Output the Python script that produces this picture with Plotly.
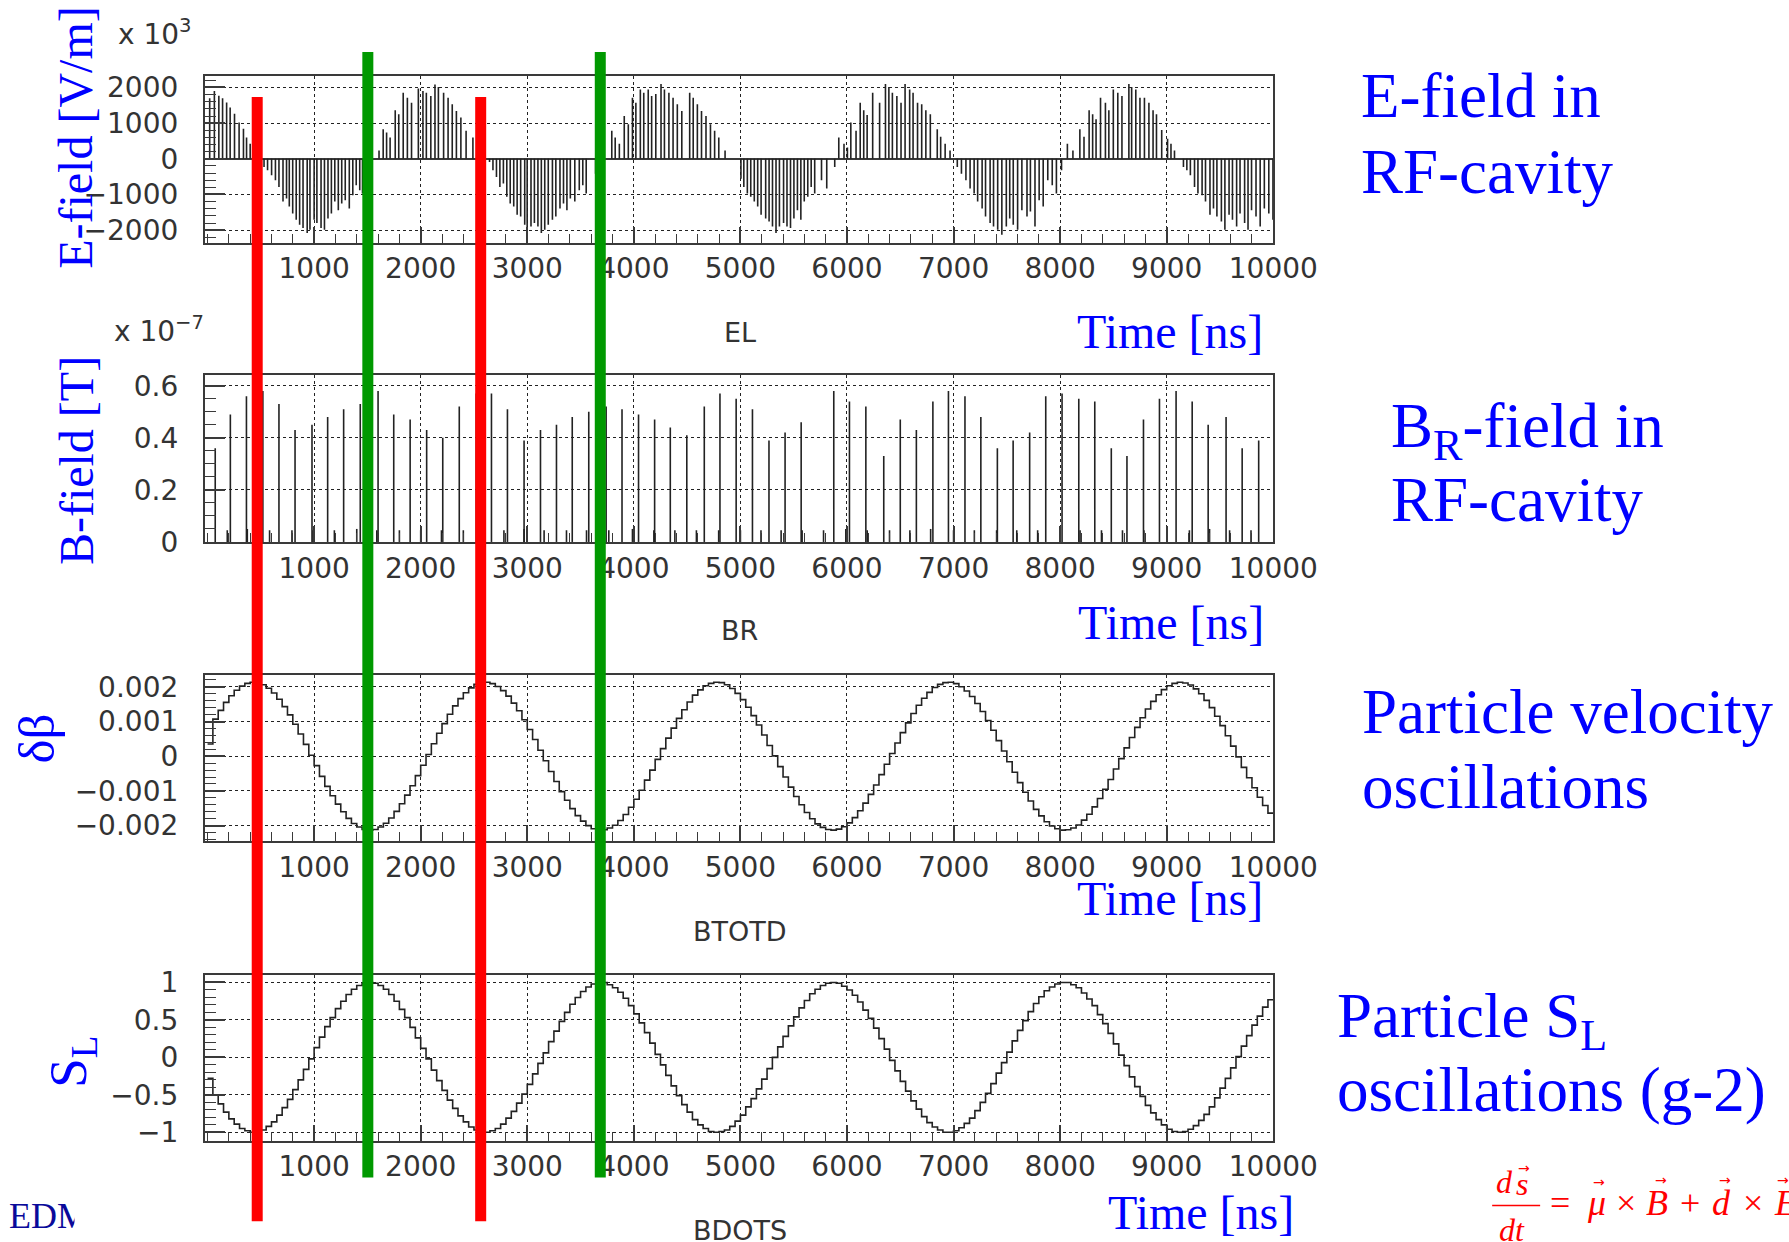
import plotly.graph_objects as go

# target picture size, and the layout size that the page photographer maps onto it
PIC_W, PIC_H = 1789, 1242
SX, SY, OY = 0.976, 0.9816, 7.8          # measured photograph transform
W = round(PIC_W / SX)                     # layout width  (~1833)
H = round((PIC_H - OY) / SY)              # layout height (~1257)
FS = 1.0 / 0.979                          # font scale compensation

# ---------------- data ----------------
e_time = [20, 64, 106, 141, 179, 212, 253, 296, 337, 366, 400,
          530, 563, 601, 637, 670, 708, 741, 767, 799, 832, 864, 896, 935, 961, 1000, 1026, 1065, 1097,
          1130, 1162, 1194, 1227, 1259, 1292, 1330, 1363, 1395, 1428, 1454,
          1609, 1648, 1680, 1713, 1761, 1794, 1836, 1875, 1914, 1978, 2021, 2053, 2095, 2134, 2166,
          2215, 2257, 2296, 2335, 2377, 2426, 2490,
          2646, 2678, 2711, 2743, 2776, 2808, 2840, 2873, 2905, 2938, 2976, 2999, 3035, 3067, 3100,
          3132, 3164, 3197, 3236, 3268, 3307, 3340, 3372, 3404, 3446, 3488, 3521, 3553, 3641,
          3793, 3825, 3864, 3910, 3948, 3987, 4019, 4061, 4093, 4135, 4167, 4206, 4255, 4287, 4329,
          4368, 4408, 4450, 4524, 4557, 4596, 4635, 4677, 4719, 4758, 4797, 4856,
          5005, 5032, 5065, 5097, 5130, 5162, 5194, 5237, 5269, 5301, 5334, 5366, 5405, 5437, 5470,
          5502, 5535, 5567, 5599, 5632, 5664, 5697, 5761, 5810, 5885,
          5923, 5972, 6004, 6036, 6085, 6124, 6157, 6189, 6241, 6306, 6361, 6393, 6426, 6468, 6507,
          6545, 6588, 6620, 6662, 6701, 6740, 6782, 6847, 6879, 6921, 6967,
          7035, 7074, 7116, 7155, 7193, 7226, 7268, 7300, 7343, 7375, 7414, 7453, 7495, 7527, 7560,
          7601, 7641, 7689, 7721, 7764, 7803, 7841, 7884, 7926, 7965, 8013,
          8068, 8120, 8185, 8224, 8272, 8305, 8337, 8379, 8425, 8457, 8499, 8541, 8580, 8645, 8671,
          8710, 8749, 8791, 8833, 8872, 8904, 8953, 9008, 9040, 9073,
          9157, 9189, 9222, 9261, 9293, 9332, 9364, 9406, 9439, 9471, 9513, 9546, 9585, 9617, 9656,
          9688, 9731, 9763, 9796, 9838, 9877, 9916, 9958, 9997]
e_field = [1700, 1900, 1770, 1700, 1580, 1440, 1260, 1020, 840, 600, 420,
           -230, -320, -460, -600, -790, -1200, -1110, -1340, -1530, -1710, -1850, -1940, -2080, -1990, -1710, -1800, -1940, -1990,
           -1670, -1530, -1200, -1440, -1250, -1160, -1390, -1020, -740, -880, -970,
           230, 830, 740, 600, 1360, 1250, 1850, 1710, 1570, 1970, 1900, 1850, 1760, 2080, 2010,
           1850, 1710, 1530, 1340, 1160, 790, 600,
           -90, -320, -510, -790, -690, -1060, -1250, -1340, -1570, -1620, -1850, -1990, -1900, -1800, -1900,
           -2080, -1990, -1850, -1710, -1620, -1390, -1250, -1440, -1110, -1200, -880, -740, -970, -420,
           790, 600, 420, 1200, 970, 1710, 1570, 1940, 1850, 1940, 1760, 1820, 2100, 1940, 1850,
           1710, 1530, 1340, 1850, 1710, 1530, 1340, 1200, 970, 790, 600, 230,
           -560, -790, -970, -1060, -1200, -1340, -1570, -1670, -1760, -1900, -2080, -1900, -1800, -1900, -1940,
           -1670, -1440, -1710, -1200, -1060, -790, -970, -600, -830, -230,
           600, 420, 320, 1020, 790, 1570, 1360, 1230, 1850, 1570, 2100, 2010, 1850, 1760, 1570,
           2100, 1940, 1850, 1570, 1530, 1360, 1250, 830, 620, 420, 230,
           -230, -420, -600, -830, -970, -1200, -1390, -1620, -1800, -1900, -1990, -2130, -1900, -1670, -1850,
           -1990, -1440, -1620, -1480, -1900, -1160, -1340, -600, -740, -970, -320,
           420, 230, 830, 620, 1360, 1250, 1110, 1710, 1570, 1360, 1940, 1850, 1760, 2100, 2010,
           1940, 1710, 1710, 1570, 1360, 1250, 810, 560, 420, 230,
           -230, -320, -460, -790, -970, -1020, -1200, -1570, -1390, -1620, -1760, -1990, -1570, -1710, -1900,
           -1530, -1800, -1990, -1440, -1620, -1900, -1390, -1530, -1710]

b_time_tall = [72, 214, 365, 519, 670, 821, 980, 1127, 1277, 1433,
               1600, 1747, 1901, 2056, 2207, 2362, 2521, 2664, 2814, 2970,
               3124, 3274, 3422, 3577, 3740, 3889, 4044, 4195, 4342, 4497,
               4661, 4808, 4960, 5113, 5268, 5419, 5570, 5876, 6023, 6177,
               6345, 6500, 6651, 6806, 6952, 7107, 7256, 7411, 7559, 7714,
               7865, 8018, 8175, 8325, 8480, 8627, 8782, 8932, 9088, 9239,
               9389, 9557, 9708, 9863]
b_tall = [0.36, 0.49, 0.56, 0.58, 0.53, 0.43, 0.45, 0.48, 0.51, 0.53,
          0.58, 0.49, 0.47, 0.43, 0.40, 0.52, 0.57, 0.57, 0.51, 0.39,
          0.43, 0.45, 0.48, 0.50, 0.52, 0.51, 0.49, 0.47, 0.44, 0.41,
          0.52, 0.57, 0.55, 0.51, 0.39, 0.42, 0.46, 0.58, 0.54, 0.52,
          0.33, 0.47, 0.43, 0.54, 0.58, 0.56, 0.48, 0.36, 0.39, 0.42,
          0.56, 0.57, 0.55, 0.54, 0.36, 0.33, 0.47, 0.55, 0.58, 0.54,
          0.45, 0.48, 0.36, 0.39]
b_time_small = [185, 373, 582, 792, 990, 1190, 1400, 1588, 1800, 2000,
                2195, 2400, 2592, 2781, 2970, 3158, 3368, 3556, 3765, 3987,
                4188, 4385, 4587, 4796, 5000, 5193, 5382, 5579, 5780, 5989,
                6190, 6399, 6590, 6785, 7000, 7195, 7404, 7593, 7789, 7999,
                8187, 8388, 8585, 8786, 9004, 9213, 9402, 9590, 9791]
b_small = [0.045, 0.05, 0.045, 0.045, 0.045, 0.045, 0.05, 0.045, 0.045, 0.045,
           0.045, 0.045, 0.045, 0.045, 0.05, 0.045, 0.045, 0.045, 0.045, 0.05,
           0.045, 0.045, 0.045, 0.045, 0.045, 0.045, 0.045, 0.045, 0.045, 0.05,
           0.045, 0.045, 0.045, 0.05, 0.045, 0.045, 0.045, 0.045, 0.045, 0.05,
           0.045, 0.045, 0.045, 0.045, 0.045, 0.045, 0.05, 0.045, 0.045]

BIN_NS = 50
dbeta_e3 = [0.35, 1.07, 1.32, 1.55, 1.74, 1.90, 2.02, 2.10, 2.13, 2.12,
            2.06, 1.96, 1.82, 1.64, 1.43, 1.19, 0.92, 0.64, 0.34, 0.03,
            -0.27, -0.58, -0.87, -1.14, -1.38, -1.60, -1.79, -1.94, -2.04, -2.11,
            -2.13, -2.11, -2.04, -1.93, -1.78, -1.59, -1.37, -1.12, -0.85, -0.56,
            -0.26, 0.05, 0.36, 0.66, 0.94, 1.21, 1.45, 1.66, 1.83, 1.97,
            2.07, 2.12, 2.13, 2.09, 2.01, 1.89, 1.73, 1.53, 1.31, 1.05,
            0.77, 0.48, 0.17, -0.13, -0.44, -0.73, -1.02, -1.27, -1.51, -1.71,
            -1.87, -2.00, -2.09, -2.13, -2.12, -2.07, -1.99, -1.85, -1.68, -1.47,
            -1.24, -0.98, -0.69, -0.40, -0.09, 0.22, 0.52, 0.81, 1.09, 1.34,
            1.56, 1.76, 1.91, 2.03, 2.10, 2.13, 2.12, 2.06, 1.95, 1.81,
            1.63, 1.41, 1.17, 0.90, 0.61, 0.31, 0.01, -0.30, -0.60, -0.89,
            -1.16, -1.40, -1.62, -1.80, -1.95, -2.05, -2.11, -2.13, -2.10, -2.03,
            -1.92, -1.77, -1.57, -1.35, -1.10, -0.83, -0.53, -0.23, 0.08, 0.38,
            0.68, 0.96, 1.23, 1.47, 1.67, 1.84, 1.98, 2.07, 2.12, 2.13,
            2.09, 2.00, 1.88, 1.72, 1.52, 1.29, 1.03, 0.75, 0.45, 0.15,
            -0.16, -0.46, -0.76, -1.04, -1.29, -1.53, -1.72, -1.89, -2.01, -2.09,
            -2.13, -2.12, -2.07, -1.98, -1.84, -1.67, -1.46, -1.22, -0.95, -0.67,
            -0.37, -0.07, 0.24, 0.54, 0.83, 1.11, 1.36, 1.58, 1.77, 1.92,
            2.03, 2.10, 2.13, 2.11, 2.05, 1.94, 1.80, 1.61, 1.40, 1.15,
            0.88, 0.59, 0.29, -0.02, -0.32, -0.62, -0.91, -1.18, -1.42, -1.64]
s_long = [-0.28, -0.50, -0.62, -0.73, -0.82, -0.89, -0.95, -0.98, -1.00, -0.99,
          -0.97, -0.92, -0.86, -0.77, -0.67, -0.56, -0.43, -0.30, -0.16, -0.02,
          0.13, 0.27, 0.41, 0.53, 0.65, 0.75, 0.84, 0.91, 0.96, 0.99,
          1.00, 0.99, 0.96, 0.91, 0.84, 0.75, 0.64, 0.53, 0.40, 0.26,
          0.12, -0.02, -0.17, -0.31, -0.44, -0.57, -0.68, -0.78, -0.86, -0.93,
          -0.97, -1.00, -1.00, -0.98, -0.95, -0.89, -0.81, -0.72, -0.61, -0.49,
          -0.36, -0.22, -0.08, 0.06, 0.21, 0.35, 0.48, 0.60, 0.71, 0.80,
          0.88, 0.94, 0.98, 1.00, 1.00, 0.97, 0.93, 0.87, 0.79, 0.69,
          0.58, 0.46, 0.33, 0.19, 0.04, -0.10, -0.24, -0.38, -0.51, -0.63,
          -0.73, -0.83, -0.90, -0.95, -0.99, -1.00, -0.99, -0.97, -0.92, -0.85,
          -0.77, -0.66, -0.55, -0.42, -0.29, -0.15, 0.00, 0.14, 0.28, 0.42,
          0.54, 0.66, 0.76, 0.85, 0.91, 0.96, 0.99, 1.00, 0.99, 0.95,
          0.90, 0.83, 0.74, 0.63, 0.52, 0.39, 0.25, 0.11, -0.04, -0.18,
          -0.32, -0.45, -0.58, -0.69, -0.79, -0.87, -0.93, -0.97, -1.00, -1.00,
          -0.98, -0.94, -0.88, -0.81, -0.71, -0.60, -0.48, -0.35, -0.21, -0.07,
          0.07, 0.22, 0.36, 0.49, 0.61, 0.72, 0.81, 0.89, 0.94, 0.98,
          1.00, 1.00, 0.97, 0.93, 0.86, 0.78, 0.69, 0.57, 0.45, 0.32,
          0.18, 0.03, -0.11, -0.26, -0.39, -0.52, -0.64, -0.74, -0.83, -0.90,
          -0.96, -0.99, -1.00, -0.99, -0.96, -0.91, -0.84, -0.76, -0.66, -0.54,
          -0.41, -0.28, -0.14, 0.01, 0.15, 0.29, 0.43, 0.55, 0.67, 0.77]

red_marks = [466, 2563]
green_marks = [1504, 3685]

x_tick_vals = [1000, 2000, 3000, 4000, 5000, 6000, 7000, 8000, 9000, 10000]
x_tick_text = ["1000", "2000", "3000", "4000", "5000", "6000", "7000", "8000", "9000", "10000"]

INK = "#222222"
FRAME = "#3a3a3a"
TICKFONT = dict(family="DejaVu Sans", size=round(27 * FS), color="#333333")
BLUE = "#0000FF"
SERIF = "Liberation Serif"


def px(X):
    """picture x (px) -> paper fraction"""
    return (X / SX) / W


def py(Y):
    """picture y (px, from top) -> paper fraction"""
    return 1 - ((Y - OY) / SY) / H


def spike_xy(ts, vs):
    xs, ys = [], []
    for t, v in zip(ts, vs):
        xs.extend([t, t, None])
        ys.extend([0, v, None])
    return xs, ys


def step_xy(vals, width):
    xs = [i * width for i in range(len(vals) + 1)]
    ys = list(vals) + [vals[-1]]
    return xs, ys


fig = go.Figure()
ex, ey = spike_xy(e_time, e_field)
fig.add_trace(go.Scatter(x=ex, y=ey, mode="lines", line=dict(color=INK, width=1.6),
                         xaxis="x", yaxis="y", hoverinfo="skip"))
bx, by = spike_xy(b_time_tall + b_time_small, b_tall + b_small)
fig.add_trace(go.Scatter(x=bx, y=by, mode="lines", line=dict(color=INK, width=1.6),
                         xaxis="x2", yaxis="y2", hoverinfo="skip"))
dx, dy = step_xy([v * 1e-3 for v in dbeta_e3], BIN_NS)
fig.add_trace(go.Scatter(x=dx, y=dy, mode="lines", line=dict(color=INK, width=1.6, shape="hv"),
                         xaxis="x3", yaxis="y3", hoverinfo="skip"))
sx, sy = step_xy(s_long, BIN_NS)
fig.add_trace(go.Scatter(x=sx, y=sy, mode="lines", line=dict(color=INK, width=1.6, shape="hv"),
                         xaxis="x4", yaxis="y4", hoverinfo="skip"))

panels = [
    dict(top=75, bottom=242, yrange=[-2350, 2320], tickvals=[-2000, -1000, 0, 1000, 2000],
         ticktext=["\u22122000", "\u22121000", "0", "1000", "2000"], minor=200, zeroline=True),
    dict(top=375, bottom=542, yrange=[0, 0.64], tickvals=[0, 0.2, 0.4, 0.6],
         ticktext=["0", "0.2", "0.4", "0.6"], minor=0.05, zeroline=False),
    dict(top=675, bottom=842, yrange=[-0.00245, 0.00235], tickvals=[-0.002, -0.001, 0, 0.001, 0.002],
         ticktext=["\u22120.002", "\u22120.001", "0", "0.001", "0.002"], minor=0.0002, zeroline=False),
    dict(top=976, bottom=1142, yrange=[-1.11, 1.10], tickvals=[-1, -0.5, 0, 0.5, 1],
         ticktext=["\u22121", "\u22120.5", "0", "0.5", "1"], minor=0.1, zeroline=False),
]

layout_axes = {}
for i, p in enumerate(panels):
    sfx = "" if i == 0 else str(i + 1)
    layout_axes["xaxis" + sfx] = dict(
        domain=[px(205), px(1274)], range=[-25, 10000], anchor="y" + sfx,
        showline=True, mirror=True, linecolor=FRAME, linewidth=2,
        showgrid=True, gridcolor=INK, griddash="dot", gridwidth=1.3,
        tickmode="array", tickvals=x_tick_vals, ticktext=x_tick_text,
        ticks="inside", ticklen=16, tickwidth=1.5, tickcolor=FRAME,
        minor=dict(ticks="inside", ticklen=9, tickwidth=1.3, tickcolor=FRAME,
                   dtick=200, tick0=0, showgrid=False),
        tickfont=TICKFONT, ticklabelstandoff=0, zeroline=False, fixedrange=True)
    layout_axes["yaxis" + sfx] = dict(
        domain=[py(p["bottom"]), py(p["top"])], range=p["yrange"], anchor="x" + sfx,
        showline=True, mirror=True, linecolor=FRAME, linewidth=2,
        showgrid=True, gridcolor=INK, griddash="dot", gridwidth=1.3,
        tickmode="array", tickvals=p["tickvals"], ticktext=p["ticktext"],
        ticks="inside", ticklen=20, tickwidth=1.5, tickcolor=FRAME,
        minor=dict(ticks="inside", ticklen=11, tickwidth=1.3, tickcolor=FRAME,
                   dtick=p["minor"], tick0=0, showgrid=False),
        tickfont=TICKFONT, ticklabelstandoff=19,
        zeroline=p["zeroline"], zerolinecolor=FRAME, zerolinewidth=2, fixedrange=True)


def ann(text, x, y, size, color, family, xanchor="center", yanchor="middle", angle=0, **kw):
    d = dict(text=text, x=px(x), y=py(y), xref="paper", yref="paper", showarrow=False,
             font=dict(size=round(size * FS), color=color, family=family),
             xanchor=xanchor, yanchor=yanchor, textangle=angle)
    d.update(kw)
    return d


annotations = []
annotations.append(ann("E-field [V/m]", 76, 136, 47, BLUE, SERIF, angle=-90))
annotations.append(ann("B-field [T]", 76, 460, 47, BLUE, SERIF, angle=-90))
annotations.append(ann("\u03b4\u03b2", 38, 739, 50, BLUE, SERIF, angle=-90))
annotations.append(ann("S<sub>L</sub>", 72, 1063, 52, BLUE, SERIF, angle=-90))
annotations.append(ann("x 10<sup>3</sup>", 116, 52, 27, "#333333", "DejaVu Sans", xanchor="left", yanchor="bottom"))
annotations.append(ann("x 10<sup>\u22127</sup>", 112, 350, 27, "#333333", "DejaVu Sans", xanchor="left", yanchor="bottom"))
for name, yy in [("EL", 332), ("BR", 631), ("BTOTD", 932), ("BDOTS", 1232)]:
    annotations.append(ann(name, 740, yy, 26, "#333333", "DejaVu Sans"))
for xx, yy in [(1171, 331), (1172, 623), (1171, 899), (1202, 1214)]:
    annotations.append(ann("Time [ns]", xx, yy, 47, BLUE, SERIF))
for txt, xx, yy in [("E-field in", 1360, 95), ("RF-cavity", 1360, 171),
                    ("B<sub>R</sub>-field in", 1390, 430), ("RF-cavity", 1390, 500),
                    ("Particle velocity", 1361, 712), ("oscillations", 1361, 788),
                    ("Particle S<sub>L</sub>", 1336, 1022), ("oscillations (g-2)", 1336, 1091)]:
    annotations.append(ann(txt, xx, yy, 62, BLUE, SERIF, xanchor="left"))
annotations.append(ann("EDM", 7, 1218, 35, "#0a0a9a", SERIF, xanchor="left"))
annotations.append(ann(" ", 74, 1218, 10, "white", SERIF, xanchor="left",
                       width=40, height=50, bgcolor="white"))
RED = "#FF0000"
annotations.append(ann("<i>d</i>", 1505, 1184, 31, RED, SERIF))
annotations.append(ann("<i>s</i>", 1523, 1186, 31, RED, SERIF))
annotations.append(ann("<i>dt</i>", 1513, 1232, 31, RED, SERIF))
for sym, xx in [("=", 1561), ("<i>\u03bc</i>", 1597), ("\u00d7", 1627), ("<i>B</i>", 1658),
                ("+", 1691), ("<i>d</i>", 1722), ("\u00d7", 1754)]:
    annotations.append(ann(sym, xx, 1205, 35, RED, SERIF))
annotations.append(ann("<i>E</i>", 1773, 1205, 35, RED, SERIF, xanchor="left"))
for xx, yy in [(1525, 1170), (1600, 1184), (1662, 1182), (1726, 1182), (1784, 1182)]:
    annotations.append(ann("\u2192", xx, yy, 14, RED, "DejaVu Sans"))

shapes = []
for t in red_marks:
    shapes.append(dict(type="line", xref="x", yref="paper", x0=t, x1=t, y0=py(1223), y1=py(96),
                       line=dict(color="#FF0000", width=11), layer="above"))
for t in green_marks:
    shapes.append(dict(type="line", xref="x", yref="paper", x0=t, x1=t, y0=py(1179), y1=py(51),
                       line=dict(color="#009900", width=11), layer="above"))
shapes.append(dict(type="line", xref="paper", yref="paper", x0=px(1493), x1=px(1541),
                   y0=py(1207), y1=py(1207), line=dict(color=RED, width=1.5)))

fig.update_layout(
    width=W, height=H, margin=dict(l=0, r=0, t=0, b=0),
    paper_bgcolor="white", plot_bgcolor="white", showlegend=False,
    annotations=annotations, shapes=shapes, **layout_axes)

fig.write_html("out.html")
